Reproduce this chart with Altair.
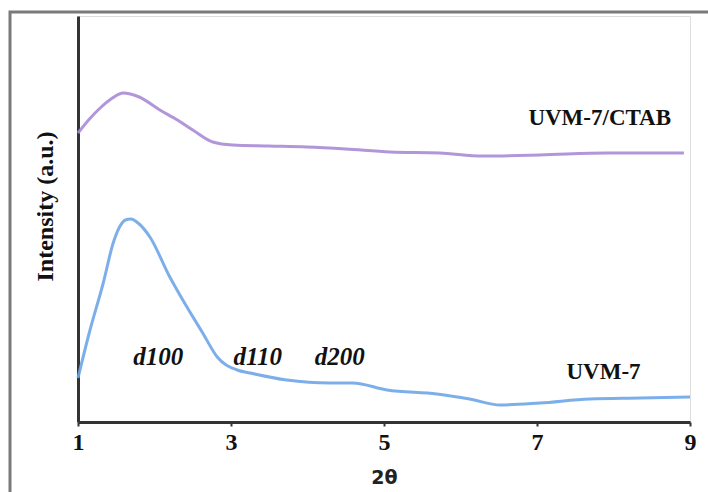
import altair as alt
import pandas as pd

# UVM-7/CTAB (purple)
ctab_x = [1.0, 1.15, 1.29, 1.45, 1.59, 1.8, 2.07, 2.3, 2.50, 2.76, 3.02, 3.5, 3.99, 4.5, 5.08, 5.73, 6.29, 7.04, 7.92, 8.92]
ctab_y = [289, 303, 314, 324, 329, 325, 312, 302, 292, 280, 277, 276, 275, 273, 270, 269, 266, 267, 269, 269]

# UVM-7 (blue)
uvm_x = [1.0, 1.15, 1.33, 1.46, 1.55, 1.62, 1.69, 1.8, 1.94, 2.2, 2.37, 2.63, 2.82, 3.08, 3.25, 3.73, 4.29, 4.59, 5.04, 5.69, 6.12, 6.52, 7.04, 7.69, 8.35, 9.0]
uvm_y = [44, 90, 139, 179, 196, 202, 203, 198, 185, 145, 122, 89, 65, 52, 49, 42, 39, 39, 32, 28, 23, 17, 19, 23, 24, 25]

# annotations
peak_labels = ["d100", "d110", "d200"]
peak_x = [2.05, 3.35, 4.42]
peak_y = [65, 65, 65]

series_labels = ["UVM-7/CTAB", "UVM-7"]
series_x = [7.82, 7.87]
series_y = [304, 50]

x_ticks = [1, 3, 5, 7, 9]

df = pd.concat([
    pd.DataFrame({"x": ctab_x, "y": ctab_y, "s": "UVM-7/CTAB"}),
    pd.DataFrame({"x": uvm_x, "y": uvm_y, "s": "UVM-7"}),
])
df_peaks = pd.DataFrame({"x": peak_x, "y": peak_y, "t": peak_labels})
df_series = pd.DataFrame({"x": series_x, "y": series_y, "t": series_labels})

xs = alt.Scale(domain=[1, 9], nice=False, zero=False)
ys = alt.Scale(domain=[0, 406], nice=False, zero=False)

lines = alt.Chart(df).mark_line(interpolate="monotone", strokeWidth=3, opacity=0.9).encode(
    x=alt.X("x:Q", scale=xs,
            axis=alt.Axis(values=x_ticks, format="d", title="2θ", titleFont="DejaVu Sans", titleFontSize=19,
                          titleFontWeight="bold", titleColor="#222", titlePadding=14,
                          labelFont="Liberation Serif", labelFontSize=24, labelFontWeight="bold",
                          labelColor="#111", labelPadding=4, tickSize=4, tickWidth=2,
                          tickColor="#333", domainColor="#333", domainWidth=3, grid=False,
                          labelFlush=False)),
    y=alt.Y("y:Q", scale=ys,
            axis=alt.Axis(title="Intensity (a.u.)", titleFont="Liberation Serif", titleFontSize=24,
                          titleFontWeight="bold", titleColor="#111", titleY=190, titleX=-33,
                          titleAngle=270, titleBaseline="middle",
                          labels=False, ticks=False, domainColor="#333", domainWidth=3, grid=False)),
    color=alt.Color("s:N", scale=alt.Scale(domain=["UVM-7/CTAB", "UVM-7"], range=["#A88BD6", "#6EA6E8"]),
                    legend=None),
    detail="s:N",
)

peaks = alt.Chart(df_peaks).mark_text(font="Liberation Serif", fontSize=25, fontWeight="bold",
                                      fontStyle="italic", color="#111").encode(
    x=alt.X("x:Q", scale=xs), y=alt.Y("y:Q", scale=ys), text="t:N")

slabels = alt.Chart(df_series).mark_text(font="Liberation Serif", fontSize=23, fontWeight="bold",
                                         color="#111").encode(
    x=alt.X("x:Q", scale=xs), y=alt.Y("y:Q", scale=ys), text="t:N")

frame = alt.Chart(pd.DataFrame({"a": [0]})).mark_rect(fill=None, stroke="#7a7a7a", strokeWidth=3,
                                                       clip=False).encode(
    x=alt.value(-68), x2=alt.value(800), y=alt.value(-4), y2=alt.value(500))

chart = alt.layer(frame, lines, peaks, slabels).properties(
    width=612, height=406,
    padding={"left": 78, "top": 16, "right": 18, "bottom": 70},
    autosize=alt.AutoSizeParams(type="none"),
).configure_view(stroke=None).configure(background="white")

chart.save("out.html", embed_options={"renderer": "svg", "actions": False})
